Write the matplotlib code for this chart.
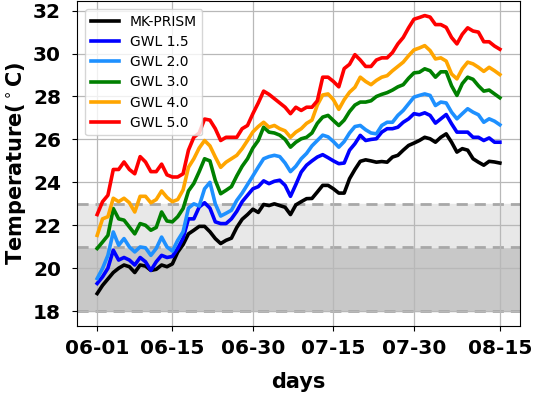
import matplotlib
matplotlib.use("Agg")
import matplotlib.pyplot as plt
import matplotlib.dates as mdates
import numpy as np
import pandas as pd

# daily mean temperature, 06-01 .. 08-15
days = pd.date_range("2023-06-01", "2023-08-15", freq="D")

mk_prism = [18.82, 19.2, 19.5, 19.8, 20.0, 20.15, 20.07, 19.8, 20.15, 20.1,
            19.9, 19.95, 20.15, 20.07, 20.2, 20.75, 21.1, 21.6, 21.77, 21.95,
            21.95, 21.7, 21.38, 21.15, 21.3, 21.4, 21.9, 22.28, 22.5, 22.75,
            22.6, 22.97, 22.92, 23.0, 22.92, 22.84, 22.5, 22.95, 23.1, 23.24,
            23.25, 23.55, 23.86, 23.86, 23.7, 23.5, 23.5, 24.17, 24.6, 24.98,
            25.05, 25.0, 24.94, 24.97, 24.94, 25.18, 25.26, 25.5, 25.72, 25.83,
            25.95, 26.1, 26.03, 25.87, 26.1, 26.26, 25.87, 25.41, 25.57, 25.5,
            25.1, 24.94, 24.8, 24.98, 24.95, 24.9]

gwl_15 = [19.29, 19.6, 20.0, 20.84, 20.38, 20.5, 20.38, 20.15, 20.5, 20.3,
          19.9, 20.3, 20.6, 20.5, 20.55, 20.92, 21.4, 22.3, 22.3, 22.85,
          23.05, 22.8, 22.16, 22.08, 22.08, 22.3, 22.65, 23.1, 23.4, 23.7,
          23.8, 24.07, 23.94, 24.05, 24.1, 23.86, 23.35, 23.9, 24.48, 24.8,
          25.0, 25.18, 25.29, 25.15, 25.0, 24.87, 24.9, 25.5, 25.8, 26.19,
          25.95, 26.0, 26.03, 26.34, 26.5, 26.5, 26.57, 26.8, 26.96, 27.2,
          27.15, 27.24, 27.12, 26.76, 26.96, 27.16, 26.73, 26.34, 26.34, 26.34,
          26.1, 26.1, 25.95, 26.07, 25.87, 25.87]

gwl_20 = [19.52, 19.99, 20.6, 21.69, 21.07, 21.38, 20.99, 20.76, 20.99, 20.95,
          20.6, 20.92, 21.45, 20.99, 20.8, 21.3, 21.7, 22.8, 23.0, 22.9,
          23.7, 24.0, 23.0, 22.43, 22.56, 22.7, 23.16, 23.5, 23.9, 24.3,
          24.71, 25.1, 25.2, 25.26, 25.2, 24.9, 24.5, 24.75, 25.1, 25.35,
          25.7, 25.95, 26.2, 26.12, 25.9, 25.64, 25.9, 26.3, 26.6, 26.65,
          26.45, 26.3, 26.26, 26.65, 26.8, 26.8, 27.12, 27.35, 27.66, 27.97,
          28.05, 28.12, 28.05, 27.58, 27.74, 27.7, 27.27, 26.96, 27.2, 27.43,
          27.27, 27.15, 26.8, 26.96, 26.85, 26.68]

gwl_30 = [20.92, 21.22, 21.53, 22.78, 22.3, 22.24, 21.92, 21.6, 22.08, 22.0,
          21.77, 21.9, 22.62, 22.2, 22.16, 22.4, 22.78, 23.6, 23.95, 24.5,
          25.1, 25.0, 24.09, 23.47, 23.63, 23.8, 24.3, 24.75, 25.1, 25.6,
          25.95, 26.57, 26.34, 26.3, 26.2, 26.0, 25.64, 25.87, 26.03, 26.1,
          26.3, 26.75, 27.04, 27.12, 26.88, 26.65, 26.9, 27.3, 27.6, 27.74,
          27.74, 27.8, 28.0, 28.1, 28.18, 28.3, 28.45, 28.55, 28.85, 29.1,
          29.13, 29.29, 29.2, 28.9, 29.15, 29.15, 28.5, 28.05, 28.6, 28.9,
          28.8, 28.5, 28.25, 28.3, 28.12, 27.94]

gwl_40 = [21.53, 22.3, 22.4, 23.26, 23.1, 23.26, 23.05, 22.62, 23.35, 23.35,
          23.05, 23.2, 23.6, 23.3, 23.1, 23.2, 23.65, 24.7, 25.1, 25.6,
          25.95, 25.7, 25.18, 24.7, 24.94, 25.1, 25.26, 25.57, 25.95, 26.35,
          26.6, 26.8, 26.57, 26.65, 26.5, 26.4, 26.1, 26.34, 26.5, 26.75,
          26.9, 27.6, 28.07, 28.12, 27.85, 27.4, 27.85, 28.2, 28.43, 28.9,
          28.7, 28.55, 28.75, 28.9, 28.97, 29.2, 29.4, 29.6, 29.9, 30.17,
          30.26, 30.37, 30.14, 29.75, 29.8, 29.65, 29.05, 28.82, 29.29, 29.6,
          29.52, 29.36, 29.17, 29.36, 29.2, 29.02]

gwl_50 = [22.5, 23.1, 23.4, 24.6, 24.6, 24.95, 24.6, 24.4, 25.2, 24.95,
          24.5, 24.5, 24.85, 24.35, 24.25, 24.25, 24.4, 25.5, 26.1, 26.3,
          26.95, 26.9, 26.5, 25.95, 26.1, 26.1, 26.1, 26.5, 26.65, 27.2,
          27.7, 28.25, 28.1, 27.9, 27.7, 27.5, 27.2, 27.5, 27.35, 27.5,
          27.5, 27.8, 28.9, 28.9, 28.7, 28.45, 29.3, 29.5, 29.95, 29.7,
          29.4, 29.4, 29.7, 29.8, 29.8, 30.05, 30.45, 30.75, 31.2, 31.6,
          31.68, 31.77, 31.7, 31.35, 31.35, 31.22, 30.75, 30.45, 30.9, 31.2,
          31.05, 31.0, 30.55, 30.55, 30.35, 30.2]

series = [
    ("MK-PRISM", mk_prism, "black"),
    ("GWL 1.5", gwl_15, "blue"),
    ("GWL 2.0", gwl_20, "dodgerblue"),
    ("GWL 3.0", gwl_30, "green"),
    ("GWL 4.0", gwl_40, "orange"),
    ("GWL 5.0", gwl_50, "red"),
]

# comfort bands
band_low = [18, 21]
band_high = [21, 23]
band_colors = ["#c8c8c8", "#e8e8e8"]
band_edges = [18, 21, 23]

tick_dates = pd.to_datetime(["2023-06-01", "2023-06-15", "2023-06-30",
                             "2023-07-15", "2023-07-30", "2023-08-15"])

fig = plt.figure(figsize=(5.35, 3.97), dpi=100)
ax = fig.add_axes([0.144, 0.179, 0.828, 0.819])

for lo, hi, c in zip(band_low, band_high, band_colors):
    ax.axhspan(lo, hi, color=c, zorder=0)
for y in band_edges:
    ax.axhline(y, color="#a8a8a8", lw=2, ls=(0, (4, 2.5)), zorder=1)

for label, vals, color in series:
    ax.plot(days, vals, color=color, lw=2.6, label=label, zorder=3)

ax.grid(True, color="#b8b8b8", lw=0.9)
for gl in ax.get_xgridlines() + ax.get_ygridlines():
    gl.set_zorder(0.5)

ax.set_xticks(tick_dates)
ax.xaxis.set_major_formatter(mdates.DateFormatter("%m-%d"))
ax.set_yticks(np.arange(18, 33, 2))
ax.tick_params(axis="x", labelsize=14.5, pad=6)
ax.tick_params(axis="y", labelsize=14.5, pad=8)
for t in ax.get_xticklabels() + ax.get_yticklabels():
    t.set_fontweight("bold")

ax.set_xlabel("days", fontsize=15, fontweight="bold", labelpad=10)
ax.set_ylabel(r"Temperature($^\circ$C)", fontsize=15, fontweight="bold")

ax.legend(loc="upper left", fontsize=10, labelspacing=0.45,
          borderaxespad=0.6)

fig.savefig("out.png", dpi=100)
